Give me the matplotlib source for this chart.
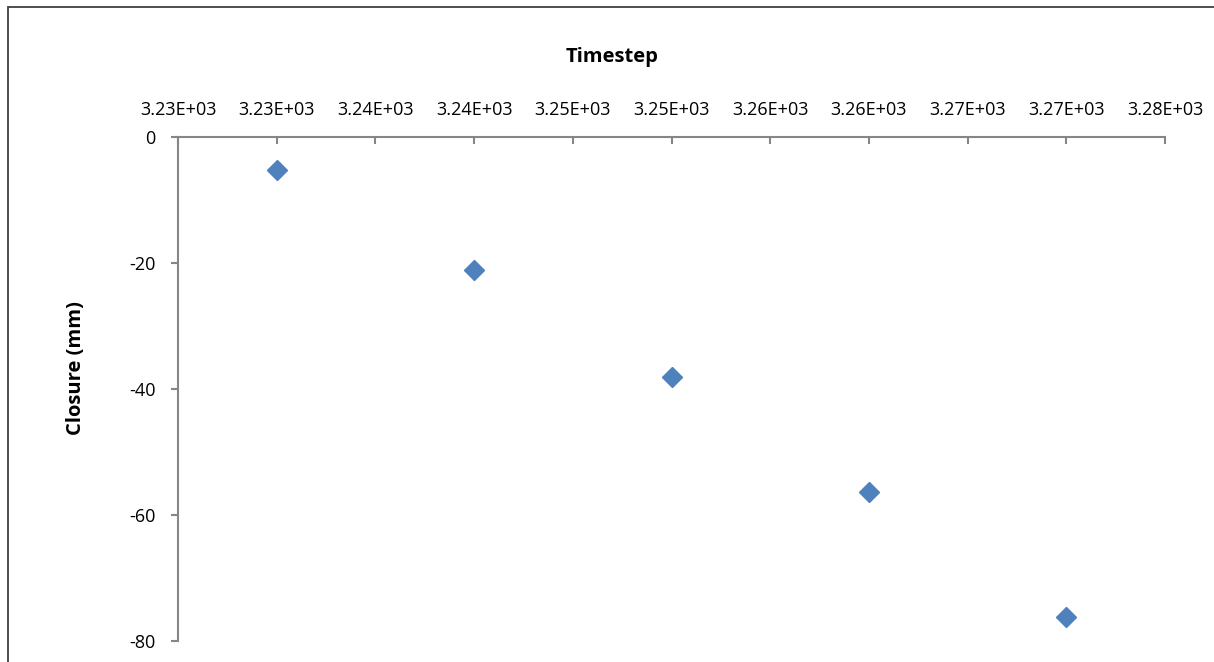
import matplotlib
matplotlib.use('Agg')
import matplotlib.pyplot as plt
from matplotlib.patches import Rectangle

# data
timestep = [3230, 3240, 3250, 3260, 3270]
closure = [-5.2, -21.1, -38.1, -56.3, -76.2]

x_ticks = [3225, 3230, 3235, 3240, 3245, 3250, 3255, 3260, 3265, 3270, 3275]
x_labels = ['3.23E+03', '3.23E+03', '3.24E+03', '3.24E+03', '3.25E+03', '3.25E+03',
            '3.26E+03', '3.26E+03', '3.27E+03', '3.27E+03', '3.28E+03']
y_ticks = [0, -20, -40, -60, -80]

plt.rcParams['font.family'] = ['Open Sans', 'DejaVu Sans']
axis_grey = '#868686'

fig = plt.figure(figsize=(12.14, 6.62), dpi=100)
ax = fig.add_axes([178 / 1214, 21 / 662, 987 / 1214, 504 / 662])

ax.plot(timestep, closure, linestyle='none', marker='D', markersize=10,
        color='#4F81BD', markeredgecolor='#4F81BD')

ax.set_xlim(3225, 3275)
ax.set_ylim(-80, 0)
ax.set_xticks(x_ticks)
ax.set_xticklabels(x_labels)
ax.set_yticks(y_ticks)
ax.set_yticklabels([str(v) for v in y_ticks])

ax.xaxis.tick_top()
ax.spines['bottom'].set_visible(False)
ax.spines['right'].set_visible(False)
for s in ['top', 'left']:
    ax.spines[s].set_color(axis_grey)
    ax.spines[s].set_linewidth(1.5)
ax.tick_params(axis='x', direction='in', length=5, width=1.5, color=axis_grey,
               pad=13, labelsize=13, labelcolor='black')
ax.tick_params(axis='y', direction='out', length=5, width=1.5, color=axis_grey,
               pad=11, labelsize=13, labelcolor='black')

fig.text(612 / 1214, 1 - 57 / 662, 'Timestep', ha='center', va='center',
         fontsize=14.5, fontweight='bold')
fig.text(76 / 1214, 1 - 368 / 662, 'Closure (mm)', ha='center', va='center',
         rotation=90, fontsize=14.5, fontweight='bold')

# chart frame
fig.patches.append(Rectangle((8 / 1214, -0.1), 1.2, 1 - 7 / 662 + 0.1,
                             transform=fig.transFigure, fill=False,
                             edgecolor='#404040', linewidth=1.3))

fig.savefig('out.png', dpi=100)
